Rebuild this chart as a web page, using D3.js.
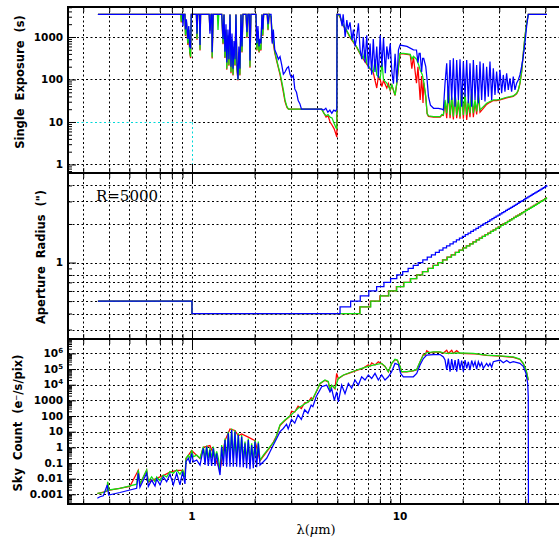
<!DOCTYPE html>
<html>
<head>
<meta charset="utf-8">
<script src="https://cdn.jsdelivr.net/npm/d3@7"></script>
<style>
  body { margin: 0; background: #fff; }
</style>
</head>
<body>
<div id="chart"></div>
<script>
// ---------------- data (wavelength in micron, value) ----------------
const xLabelValues = [1, 10];

const expTickValues = [1, 10, 100, 1000];
const expTickLabels = ["1", "10", "100", "1000"];
const apTickValues = [1];
const apTickLabels = ["1"];
const apGridValues = [0.3, 0.4, 0.5, 0.6, 0.7, 0.8, 1, 2, 3, 4];
const skyTickValues = [1e-3, 1e-2, 0.1, 1, 10, 100, 1000, 1e4, 1e5, 1e6];
const skyTickLabels = ["0.001", "0.01", "0.1", "1", "10", "100", "1000", "10^4", "10^5", "10^6"];

const seriesColors = ["#ff0000", "#10e010", "#0000ff"];

// single exposure (s)
const expRed = [[0.353,3400],[0.884,3400],[0.888,2200],[0.893,3400],[0.925,3400],[0.93,1050],[0.94,2300],[0.955,650],[0.965,1450],[0.975,430],[0.985,320],[0.992,3400],
  [1.05,3400],[1.057,850],[1.065,3400],[1.087,3400],[1.093,480],[1.1,3400],
  [1.21,3400],[1.22,1400],[1.235,3400],[1.245,3400],[1.25,310],[1.265,3400],
  [1.39,3400],[1.41,680],[1.425,3400],[1.44,320],[1.457,1450],[1.47,170],[1.489,1050],[1.505,210],[1.523,3400],[1.54,140],[1.557,850],[1.575,125],[1.592,580],[1.61,210],[1.627,3400],[1.645,170],[1.664,95],[1.68,430],[1.70,125],[1.72,3400],[1.739,430],[1.758,3400],
  [1.82,3400],[1.838,950],[1.858,3400],[1.885,3400],[1.90,190],[1.92,3400],
  [2.03,3400],[2.05,480],[2.075,1350],[2.10,430],[2.12,620],[2.145,480],[2.17,3400],[2.19,1050],[2.21,3400],
  [2.3,3400],[2.32,1450],[2.35,3400],[2.40,2900],[2.43,800],[2.46,700],[2.5,420],[2.55,280],[2.6,190],[2.65,130],[2.70,80],[2.75,50],[2.80,30],[2.86,22],[2.91,20],
  [4.2,20],[4.31,16],[4.41,13],[4.51,14],[4.61,10],[4.71,8.5],[4.82,7],[4.93,5],[4.97,4.4],[4.98,3400],
  [5.05,3400],[5.15,2900],[5.33,1850],[5.53,1400],[5.75,980],[5.97,750],[6.19,570],[6.43,400],[6.66,300],[6.92,230],[7.18,175],[7.44,145],[7.73,63],[7.87,120],[8.03,100],[8.18,68],[8.33,95],[8.64,63],[8.8,80],[8.97,55],[9.14,72],[9.47,42],[9.65,80],[9.83,190],
  [10.0,400],[10.4,400],[10.8,390],[11.2,380],[11.4,180],[11.6,340],[12.0,82],[12.2,200],[12.5,33],[12.7,120],[12.9,28],[13.0,85],[13.3,38],[13.5,15.5],[13.7,13.5],[14.5,13],[15.6,13],[15.9,14.5],
  [16.16,14.2],[16.46,30],[16.77,12.3],[17.08,60],[17.40,12.3],[17.72,36],[18.05,11.5],[18.39,50],[18.73,12.3],[19.08,30],[19.43,12],[19.79,60],[20.16,12],[20.54,42],[20.92,11.2],[21.31,30],[21.70,13],[22.11,50],[22.52,13],[22.94,30],[23.36,15],[23.80,42],[24.24,17],
  [25.15,21],[26.09,26],[27.07,29],[28.09,32],[29.14,32],[30.24,33],[31.37,35],[32.55,37],[33.77,38.5],[35.04,40],[36.35,46],[37.03,55],[37.72,80],[38.42,147],[39.13,405],[39.86,1000],[40.60,2060],[41.36,3400],[50.9,3400]];

const expGreen = [[0.353,3400],[0.884,3400],[0.888,2300],[0.893,3400],[0.925,3400],[0.93,1100],[0.94,2400],[0.955,700],[0.965,1500],[0.975,450],[0.985,340],[0.992,3400],
  [1.05,3400],[1.057,900],[1.065,3400],[1.087,3400],[1.093,500],[1.1,3400],
  [1.21,3400],[1.22,1460],[1.235,3400],[1.245,3400],[1.25,330],[1.265,3400],[1.325,3400],[1.334,1460],[1.345,3400],
  [1.39,3400],[1.41,700],[1.425,3400],[1.44,330],[1.457,1500],[1.47,180],[1.489,1100],[1.505,220],[1.523,3400],[1.54,150],[1.557,900],[1.575,130],[1.592,600],[1.61,220],[1.627,3400],[1.645,180],[1.664,98],[1.68,450],[1.70,130],[1.72,3400],[1.739,450],[1.758,3400],
  [1.82,3400],[1.838,1000],[1.858,3400],[1.885,3400],[1.90,200],[1.92,3400],
  [2.03,3400],[2.05,500],[2.075,1400],[2.10,450],[2.12,650],[2.145,500],[2.17,3400],[2.19,1100],[2.21,3400],
  [2.3,3400],[2.32,1500],[2.35,3400],[2.40,3000],[2.43,1200],[2.46,900],[2.5,450],[2.55,300],[2.6,200],[2.65,141],[2.70,90],[2.75,57],[2.80,33],[2.86,23],[2.91,20],
  [4.2,20],[4.31,16],[4.41,14],[4.51,15],[4.61,13],[4.71,12.5],[4.82,9.3],[4.93,7.2],[4.97,7],[4.98,3400],
  [5.05,3400],[5.15,3000],[5.33,1920],[5.53,1460],[5.75,1020],[5.97,775],[6.19,590],[6.43,413],[6.66,315],[6.8,500],[6.92,240],[7.18,183],[7.44,153],[7.6,300],[7.73,128],[8.03,107],[8.2,250],[8.33,98],[8.64,82],[8.97,57],[9.14,75],[9.47,43],[9.65,82],[9.83,200],
  [10.0,413],[10.4,410],[10.8,400],[11.2,390],[11.4,300],[11.6,350],[12.0,300],[12.3,220],[12.5,168],[12.8,130],[13.0,89],[13.3,40],[13.5,16],[13.7,14],[14.5,13.4],[15.6,13.4],[15.9,15],
  [16.16,14.7],[16.46,33],[16.77,16.1],[17.08,68.4],[17.40,14.7],[17.72,39.5],[18.05,13.4],[18.39,56.8],[18.73,14.7],[19.08,33],[19.43,13.4],[19.79,68.4],[20.16,14.7],[20.54,47.4],[20.92,14.7],[21.31,33],[21.70,16.1],[22.11,56.8],[22.52,16.1],[22.94,33],[23.36,17.7],[23.80,47.4],[24.24,19.2],
  [25.15,23],[26.09,27.5],[27.07,30.3],[28.09,33],[29.14,33],[30.24,34.2],[31.37,36.2],[32.55,38.2],[33.77,39.5],[35.04,41.1],[36.35,47.4],[37.03,56.8],[37.72,81.6],[38.42,150],[39.13,413],[39.86,1020],[40.60,2100],[41.36,3400],[50.9,3400]];

const expBlue = [[0.353,3400],[0.876,3400],[0.9,3400],[0.905,1800],[0.912,3400],[0.925,3400],[0.93,1500],[0.94,2600],[0.955,900],[0.965,1800],[0.975,600],[0.985,560],[0.992,3400],
  [1.05,3400],[1.057,1200],[1.065,3400],[1.087,3400],[1.093,650],[1.1,3400],
  [1.21,3400],[1.22,1200],[1.235,3400],[1.245,3400],[1.25,440],[1.265,3400],
  [1.39,3400],[1.41,900],[1.425,3400],[1.44,450],[1.457,2000],[1.47,250],[1.489,1500],[1.505,300],[1.523,3400],[1.54,200],[1.557,1200],[1.575,180],[1.592,800],[1.61,300],[1.627,3400],[1.645,250],[1.664,100],[1.68,600],[1.70,180],[1.72,3400],[1.739,600],[1.758,3400],
  [1.82,3400],[1.838,1300],[1.858,3400],[1.885,3400],[1.90,280],[1.92,3400],
  [2.03,3400],[2.05,700],[2.075,1800],[2.10,600],[2.12,900],[2.145,700],[2.17,3400],[2.19,1500],[2.21,3400],
  [2.3,3400],[2.32,2000],[2.35,3400],[2.40,3400],[2.43,700],[2.46,1500],[2.5,500],[2.55,400],[2.6,300],[2.65,345],[2.70,220],[2.75,133],[2.80,150],[2.86,185],[2.91,200],[2.96,133],[3.01,110],[3.07,125],[3.12,60],[3.18,50],[3.24,32],[3.30,27],[3.36,20],
  [4.2,20],[4.3,19],[4.4,21],[4.5,17],[4.6,19],[4.7,16],[4.8,19],[4.9,18],[4.97,20],[4.98,3400],
  [5.15,3400],[5.27,1800],[5.33,3400],[5.45,1000],[5.55,2500],[5.63,1500],[5.75,2200],[5.88,850],[5.97,1500],[6.08,600],[6.19,1000],[6.31,2100],[6.43,500],[6.55,300],[6.66,1000],[6.79,250],[6.92,1100],[7.05,180],[7.18,700],[7.31,130],[7.44,900],[7.58,150],[7.73,600],[7.87,110],[8.03,1100],[8.18,200],[8.33,950],[8.5,140],[8.64,600],[8.8,300],[8.97,700],[9.14,150],[9.3,80],[9.47,400],[9.65,85],[9.83,500],
  [10.0,645],[10.8,600],[11.6,500],[12.0,495],[12.2,250],[12.35,413],[12.5,413],[12.7,150],[12.85,315],[13.0,315],[13.3,200],[13.5,97],[13.7,40],[14.0,25],[14.5,21],[15.3,21],[15.9,20],
  [16.16,19.2],[16.46,81.6],[16.77,240],[17.08,27.5],[17.40,288],[17.72,33],[18.05,315],[18.39,23],[18.73,288],[19.08,33],[19.43,299],[19.79,23],[20.16,263],[20.54,39.5],[20.92,288],[21.31,27.5],[21.70,240],[22.11,23],[22.52,288],[22.94,33],[23.36,220],[23.80,27.5],[24.24,263],[24.69,33],[25.15,240],[25.62,30.3],[26.09,200],[26.58,39.5],[27.07,263],[27.58,33],[28.09,183],[28.61,43.3],[29.14,153],[29.68,47.4],[30.24,168],[30.80,47.4],[31.37,128],[31.95,51.9],[32.55,140],[33.15,56.8],[33.77,107],[34.40,51.9],[35.04,117],[35.69,56.8],[36.35,81.6],[37.03,97.6],[37.72,128],[38.42,200],[39.13,344],[39.86,711],[40.60,1750],[41.36,3400],[50.9,3400]];

// aperture radius (arcsec), stepped
const apRed = [[0.353,0.5],[1.0,0.4],[6.4,0.45],[7.2,0.5],[8.0,0.55],[8.8,0.6],[9.6,0.65],[10.4,0.7],[11.2,0.75],[12.0,0.8],[12.8,0.85],[13.6,0.9],[14.4,0.95],[15.2,1.0],[16.0,1.05],[16.8,1.1],[17.6,1.15],[18.4,1.2],[19.2,1.25],[20.0,1.3],[20.8,1.35],[21.6,1.4],[22.4,1.45],[23.2,1.5],[24.0,1.55],[24.8,1.6],[25.6,1.65],[26.4,1.7],[27.2,1.75],[28.0,1.8],[28.8,1.85],[29.6,1.9],[30.4,1.95],[31.2,2.0],[32.0,2.05],[32.8,2.1],[33.6,2.15],[34.4,2.2],[35.2,2.25],[36.0,2.3],[36.8,2.35],[37.6,2.4],[38.4,2.45],[39.2,2.5],[40.0,2.55],[40.8,2.6],[41.6,2.65],[42.4,2.7],[43.2,2.75],[44.0,2.8],[44.8,2.85],[45.6,2.9],[46.4,2.95],[47.2,3.0],[48.0,3.05],[48.8,3.1],[49.6,3.15],[50.4,3.2],[50.9,3.2]];
const apGreen = [[0.353,0.5],[1.0,0.4],[6.43,0.45],[7.24,0.5],[8.04,0.55],[8.84,0.6],[9.65,0.65],[10.45,0.7],[11.26,0.75],[12.06,0.8],[12.86,0.85],[13.67,0.9],[14.47,0.95],[15.28,1.0],[16.08,1.05],[16.88,1.1],[17.69,1.15],[18.49,1.2],[19.3,1.25],[20.1,1.3],[20.9,1.35],[21.71,1.4],[22.51,1.45],[23.32,1.5],[24.12,1.55],[24.92,1.6],[25.73,1.65],[26.53,1.7],[27.34,1.75],[28.14,1.8],[28.94,1.85],[29.75,1.9],[30.55,1.95],[31.36,2.0],[32.16,2.05],[32.96,2.1],[33.77,2.15],[34.57,2.2],[35.38,2.25],[36.18,2.3],[36.98,2.35],[37.79,2.4],[38.59,2.45],[39.4,2.5],[40.2,2.55],[41.0,2.6],[41.81,2.65],[42.61,2.7],[43.42,2.75],[44.22,2.8],[45.02,2.85],[45.83,2.9],[46.63,2.95],[47.44,3.0],[48.24,3.05],[49.04,3.1],[49.85,3.15],[50.65,3.2],[50.9,3.2]];
const apBlue = [[0.353,0.5],[1.0,0.4],[5.15,0.45],[5.79,0.5],[6.44,0.55],[7.08,0.6],[7.72,0.65],[8.37,0.7],[9.01,0.75],[9.65,0.8],[10.3,0.85],[10.94,0.9],[11.58,0.95],[12.23,1.0],[12.87,1.05],[13.52,1.1],[14.16,1.15],[14.8,1.2],[15.45,1.25],[16.09,1.3],[16.74,1.35],[17.38,1.4],[18.02,1.45],[18.67,1.5],[19.31,1.55],[19.95,1.6],[20.6,1.65],[21.24,1.7],[21.88,1.75],[22.53,1.8],[23.17,1.85],[23.81,1.9],[24.46,1.95],[25.1,2.0],[25.74,2.05],[26.39,2.1],[27.03,2.15],[27.67,2.2],[28.32,2.25],[28.96,2.3],[29.6,2.35],[30.25,2.4],[30.89,2.45],[31.54,2.5],[32.18,2.55],[32.82,2.6],[33.47,2.65],[34.11,2.7],[34.75,2.75],[35.4,2.8],[36.04,2.85],[36.68,2.9],[37.33,2.95],[37.97,3.0],[38.61,3.05],[39.26,3.1],[39.9,3.15],[40.54,3.2],[41.19,3.25],[41.83,3.3],[42.47,3.35],[43.12,3.4],[43.76,3.45],[44.4,3.5],[45.05,3.55],[45.69,3.6],[46.34,3.65],[46.98,3.7],[47.62,3.75],[48.27,3.8],[48.91,3.85],[49.55,3.9],[50.2,3.95],[50.84,4.0],[50.9,4.0]];

// sky count (e-/s/pix)
const skyRed = [[0.3507,0.0011],[0.3916,0.0016],[0.393,0.006],[0.399,0.0018],[0.503,0.0032],[0.552,0.034],[0.562,0.0044],[0.6055,0.034],[0.6167,0.006],[0.728,0.016],[0.7838,0.026],[0.844,0.034],[0.9018,0.034],[0.9254,0.012],[0.9358,0.19],[0.9963,0.62],[1.093,0.19],[1.134,1.0],[1.22,1.3],[1.364,0.034],[1.441,2.7],[1.523,15],[1.609,12],[1.67,5.5],[1.733,7.2],[1.865,4.5],[2.009,2.7],[2.123,0.14],[2.371,1.0],[2.461,2.2],[2.506,3.5],[2.553,5.5],
  [2.649,25],[2.797,52],[2.955,95],[3.009,200],[3.12,180],[3.236,420],[3.356,300],[3.48,700],[3.609,750],[3.742,1500],[3.811,1200],[3.952,3300],[4.125,11500],[4.358,19000],[4.521,15000],[4.608,4300],[4.694,9000],[4.869,5500],[4.96,53000],[5.052,24000],[5.341,40000],[5.749,57000],[6.19,83000],[6.664,115000],[7.043,190000],[7.174,150000],[7.308,250000],[7.582,180000],[7.867,293000],[8.163,220000],[8.47,145000],[8.788,65000],[9.118,220000],[9.462,400000],[9.71,360000],
  [10.0,145000],[10.19,65000],[10.77,65000],[11.59,76000],[12.03,90000],[12.48,280000],[12.95,900000],[13.2,750000],[13.44,1.5e6],[13.9,1.1e6],[14.47,1.2e6],[15.57,1.2e6],[16.16,1.05e6],[16.77,1.6e6],[17.08,1.0e6],[17.72,1.6e6],[18.05,1.0e6],[18.73,1.5e6],[19.43,1.0e6],[22.52,950000],[26.09,740000],[30.24,660000],[35.04,560000],[37.72,410000],[39.13,220000],[40.4,83000],[41.36,19000]];

const skyGreen = [[0.3507,0.00116],[0.3748,0.0013],[0.3916,0.0017],[0.393,0.0064],[0.399,0.0019],[0.4505,0.0024],[0.503,0.0034],[0.542,0.0044],[0.552,0.036],[0.562,0.0046],[0.6055,0.036],[0.6167,0.0064],[0.6399,0.013],[0.6641,0.0064],[0.6764,0.013],[0.7017,0.0074],[0.728,0.017],[0.7555,0.013],[0.7838,0.028],[0.8133,0.022],[0.844,0.036],[0.8756,0.019],[0.9018,0.036],[0.9254,0.013],
  [0.9358,0.2],[0.9603,0.32],[0.978,0.2],[0.9963,0.67],[1.015,0.25],[1.053,0.32],[1.093,0.2],[1.134,1.1],[1.155,0.2],[1.176,1.3],[1.198,0.2],[1.22,0.9],[1.243,0.2],[1.266,1.1],[1.29,0.2],[1.314,0.55],[1.339,0.2],[1.364,0.036],[1.389,1.4],[1.415,0.2],[1.441,3.6],[1.468,0.2],[1.495,10],[1.523,0.2],[1.551,16],[1.58,0.2],[1.609,12.8],[1.639,0.2],[1.67,7.8],[1.701,0.18],[1.733,6.1],[1.765,0.17],[1.798,2.3],[1.831,0.15],[1.865,3.7],[1.9,0.14],[1.936,1.8],[1.972,0.15],[2.009,2.9],[2.046,0.15],[2.084,2.3],[2.123,0.15],[2.203,0.32],[2.286,0.6],[2.371,1.1],[2.461,2],[2.506,2.9],[2.553,6],
  [2.649,27],[2.797,55],[2.955,100],[3.12,190],[3.236,310],[3.417,500],[3.609,800],[3.811,1300],[3.952,3500],[4.125,12000],[4.358,20000],[4.521,16000],[4.608,4500],[4.694,9500],[4.869,5800],[5.052,25000],[5.341,42000],[5.749,60000],[6.19,87000],[6.664,120000],[7.174,160000],[7.724,200000],[8.163,230000],[8.47,150000],[8.788,68000],[9.118,230000],[9.462,420000],[9.71,380000],
  [10.0,150000],[10.19,68000],[10.77,68000],[11.59,80000],[12.03,95000],[12.48,290000],[12.95,780000],[13.44,1.1e6],[14.47,1.27e6],[15.57,1.27e6],[16.16,1.1e6],[16.77,1.0e6],[19.43,1.1e6],[22.52,1.0e6],[26.09,780000],[30.24,690000],[35.04,590000],[37.72,430000],[39.13,230000],[40.4,87000],[41.36,20000]];

const skyBlue = [[0.3507,0.00056],[0.361,0.0007],[0.3748,0.0008],[0.3916,0.004],[0.3975,0.0009],[0.4505,0.0013],[0.542,0.0024],[0.552,0.022],[0.562,0.0028],[0.6055,0.022],[0.6167,0.0032],[0.6399,0.008],[0.6641,0.0034],[0.6764,0.0095],[0.7017,0.004],[0.728,0.013],[0.7555,0.0064],[0.7838,0.019],[0.8133,0.004],[0.844,0.022],[0.8756,0.004],[0.9018,0.028],[0.9254,0.0046],
  [0.9358,0.12],[0.9603,0.2],[0.978,0.095],[0.9963,0.41],[1.015,0.12],[1.053,0.155],[1.093,0.074],[1.134,0.87],[1.155,0.074],[1.176,1.1],[1.198,0.064],[1.22,0.67],[1.243,0.064],[1.266,0.87],[1.29,0.064],[1.314,0.41],[1.339,0.058],[1.364,0.017],[1.389,1.1],[1.415,0.064],[1.441,2.9],[1.468,0.058],[1.495,7.8],[1.523,0.058],[1.551,12.8],[1.58,0.058],[1.609,10],[1.639,0.058],[1.67,6.1],[1.701,0.053],[1.733,4.8],[1.765,0.053],[1.798,1.8],[1.831,0.046],[1.865,2.9],[1.9,0.04],[1.936,1.4],[1.972,0.046],[2.009,2.3],[2.046,0.053],[2.084,1.8],[2.123,0.074],[2.203,0.12],[2.286,0.2],[2.371,0.52],[2.461,1.4],[2.553,3.7],
  [2.649,10],[2.747,16],[2.849,30],[2.901,15],[3.009,60],[3.12,35],[3.236,120],[3.356,60],[3.48,250],[3.609,150],[3.742,500],[3.811,400],[3.952,1700],[4.202,7500],[4.439,9500],[4.608,3500],[4.694,5500],[4.834,1000],[4.96,3500],[5.052,800],[5.243,9500],[5.44,2700],[5.644,12000],[5.856,6000],[6.077,20000],[6.305,9500],[6.542,32000],[6.788,20000],[7.043,42000],[7.308,25000],[7.582,53000],[7.867,20000],[8.163,42000],[8.47,20000],[8.788,32000],[9.118,68000],[9.462,230000],[9.817,190000],
  [10.07,53000],[10.38,32000],[11.59,32000],[12.03,53000],[12.48,180000],[12.95,470000],[13.44,780000],[14.47,850000],[15.57,850000],[16.16,600000],
  [16.46,376000],[16.77,87000],[17.08,470000],[17.40,68000],[17.72,430000],[18.05,87000],[18.39,376000],[18.73,68000],[19.08,430000],[19.43,98000],[19.79,350000],[20.16,68000],[20.54,376000],[20.92,112000],[21.31,293000],[21.70,87000],[22.11,350000],[22.52,150000],[22.94,293000],[23.36,98000],[23.80,293000],[24.24,150000],[24.69,250000],[25.15,112000],[26.09,230000],[26.58,150000],[27.07,230000],[27.58,130000],[28.09,293000],[30.24,376000],[31.37,250000],[32.55,350000],[33.77,250000],[35.04,293000],[37.72,230000],[39.13,150000],[40.3,53000],[41.1,12000],[41.36,1700],[41.45,1e-5]];

// ---------------- layout ----------------
const width = 559, height = 545;
const plotLeft = 68, plotRight = 566;

const svg = d3.select("#chart").append("svg")
    .attr("width", width)
    .attr("height", height)
    .style("font-family", "'DejaVu Sans', sans-serif");

const x = d3.scaleLog().domain([0.2535, 62.8]).range([plotLeft, plotRight]);

function logTicks(lo, hi) {
    const out = [];
    for (let k = Math.floor(Math.log10(lo)); k <= Math.ceil(Math.log10(hi)); k++) {
        for (let m = 1; m <= 9; m++) {
            const v = +(m * Math.pow(10, k)).toPrecision(3);
            if (v >= lo && v <= hi) out.push(v);
        }
    }
    return out;
}
const xAll = logTicks(0.2535, 62.8);

const panels = [
    { id: "exp", top: 7, bottom: 173, domain: [0.63, 5080], grid: expTickValues,
      ticks: expTickValues, labels: expTickLabels, series: [expRed, expGreen, expBlue], step: false },
    { id: "ap", top: 173, bottom: 339, domain: [0.253, 5.0], grid: apGridValues,
      ticks: apTickValues, labels: apTickLabels, series: [apRed, apGreen, apBlue], step: true },
    { id: "sky", top: 339, bottom: 504, domain: [Math.pow(10, -3.62), Math.pow(10, 6.92)], grid: skyTickValues,
      ticks: skyTickValues, labels: skyTickLabels, series: [skyRed, skyGreen, skyBlue], step: false }
];

panels.forEach(p => {
    const y = d3.scaleLog().domain(p.domain).range([p.bottom, p.top]);
    const g = svg.append("g");

    // dotted grid
    g.append("g").selectAll("line")
        .data(xAll)
        .enter().append("line")
        .attr("x1", d => Math.round(x(d)) + 0.5)
        .attr("x2", d => Math.round(x(d)) + 0.5)
        .attr("y1", p.top)
        .attr("y2", p.bottom)
        .attr("stroke", d => (p.id === "exp" && d === 1) ? "none" : "#000")
        .attr("stroke-width", 1)
        .attr("stroke-dasharray", "2,2.5");

    g.append("g").selectAll("line")
        .data(p.grid)
        .enter().append("line")
        .attr("x1", plotLeft)
        .attr("x2", plotRight)
        .attr("y1", d => Math.round(y(d)) + 0.5)
        .attr("y2", d => Math.round(y(d)) + 0.5)
        .attr("stroke", "#000")
        .attr("stroke-width", 1)
        .attr("stroke-dasharray", "2,2.5");

    if (p.id === "exp") {
        const y10 = Math.round(y(10)) + 0.5, x1 = Math.round(x(1)) + 0.5;
        // cyan marker over the grid at 1 micron / 10 s
        g.append("line").attr("x1", plotLeft).attr("x2", x1).attr("y1", y10).attr("y2", y10)
            .attr("stroke", "#fff").attr("stroke-width", 1.2);
        g.append("line").attr("x1", x1).attr("x2", x1).attr("y1", p.top).attr("y2", y10)
            .attr("stroke", "#000").attr("stroke-width", 1).attr("stroke-dasharray", "2,2.5");
        g.append("line").attr("x1", plotLeft).attr("x2", x1).attr("y1", y10).attr("y2", y10)
            .attr("stroke", "#00d8d8").attr("stroke-width", 1).attr("stroke-dasharray", "2,2.5");
        g.append("line").attr("x1", x1).attr("x2", x1).attr("y1", y10).attr("y2", p.bottom)
            .attr("stroke", "#00d8d8").attr("stroke-width", 1).attr("stroke-dasharray", "2,2.5");
    }

    // series
    svg.append("clipPath").attr("id", "clip-" + p.id)
        .append("rect")
        .attr("x", plotLeft).attr("y", p.top)
        .attr("width", plotRight - plotLeft).attr("height", p.bottom - p.top);

    const line = d3.line()
        .x(d => x(d[0]))
        .y(d => y(d[1]))
        .curve(p.step ? d3.curveStepAfter : d3.curveLinear);

    g.append("g").attr("clip-path", `url(#clip-${p.id})`)
        .selectAll("path")
        .data(p.series)
        .enter().append("path")
        .attr("d", line)
        .attr("fill", "none")
        .attr("stroke", (d, i) => seriesColors[i])
        .attr("stroke-width", 1.25)
        .attr("stroke-linejoin", "miter");

    // ticks
    const yMinor = logTicks(p.domain[0], p.domain[1]).filter(v => !p.ticks.includes(v));
    g.append("g").attr("transform", `translate(${plotLeft},0)`)
        .call(d3.axisLeft(y).tickValues(yMinor).tickSize(-4).tickFormat(""))
        .call(a => a.select(".domain").remove());
    g.append("g").attr("transform", `translate(${plotLeft},0)`)
        .call(d3.axisLeft(y).tickValues(p.ticks).tickSize(-8).tickFormat(""))
        .call(a => a.select(".domain").remove());

    const xMinor = xAll.filter(v => !xLabelValues.includes(v));
    [[d3.axisBottom, p.bottom], [d3.axisTop, p.top]].forEach(([axisFn, pos]) => {
        g.append("g").attr("transform", `translate(0,${pos})`)
            .call(axisFn(x).tickValues(xMinor).tickSize(-5).tickFormat(""))
            .call(a => a.select(".domain").remove());
        g.append("g").attr("transform", `translate(0,${pos})`)
            .call(axisFn(x).tickValues(xLabelValues).tickSize(-9).tickFormat(""))
            .call(a => a.select(".domain").remove());
    });

    // frame
    g.append("rect")
        .attr("x", plotLeft).attr("y", p.top)
        .attr("width", plotRight - plotLeft).attr("height", p.bottom - p.top)
        .attr("fill", "none")
        .attr("stroke", "#000")
        .attr("stroke-width", 2);

    // y tick labels
    p.ticks.forEach((v, i) => {
        const lab = p.labels[i];
        const t = g.append("text")
            .attr("x", 63)
            .attr("y", y(v))
            .attr("dy", "0.36em")
            .attr("text-anchor", "end")
            .attr("font-size", "10.5px")
            .attr("font-weight", "bold");
        if (lab.includes("^")) {
            const [base, exp] = lab.split("^");
            t.text(base);
            t.append("tspan").attr("dy", "-4").attr("font-size", "7px").text(exp);
        } else {
            t.text(lab);
        }
    });
});

// x tick labels
svg.selectAll(".xlab")
    .data(xLabelValues)
    .enter().append("text")
    .attr("x", d => x(d))
    .attr("y", 520)
    .attr("text-anchor", "middle")
    .attr("font-size", "10.5px")
    .attr("font-weight", "bold")
    .text(d => d);

// axis titles
const xTitle = svg.append("text")
    .attr("x", 316)
    .attr("y", 534)
    .attr("text-anchor", "middle")
    .attr("font-family", "'DejaVu Serif', serif")
    .attr("font-size", "13px");
xTitle.append("tspan").text("λ(");
xTitle.append("tspan").attr("font-style", "italic").text("μ");
xTitle.append("tspan").text("m)");

function yTitle(txt, cx, cy) {
    svg.append("text")
        .attr("transform", `translate(${cx},${cy}) rotate(-90)`)
        .attr("text-anchor", "middle")
        .attr("font-size", "11.5px")
        .attr("font-weight", "bold")
        .attr("word-spacing", "4px")
        .text(txt);
}
yTitle("Single Exposure (s)", 24, 82);
yTitle("Aperture Radius (\")", 45, 257);
yTitle("Sky Count (e\u207B/s/pix)", 22, 423);

svg.append("text")
    .attr("x", 96)
    .attr("y", 201)
    .attr("font-family", "'DejaVu Serif', serif")
    .attr("font-size", "15px")
    .text("R=5000");
</script>
</body>
</html>
